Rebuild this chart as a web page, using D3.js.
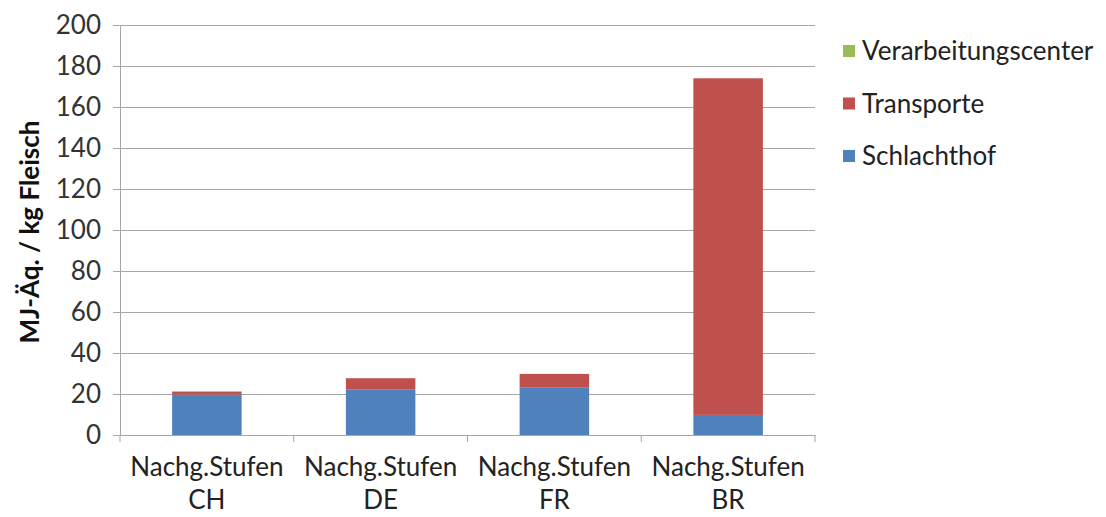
<!DOCTYPE html>
<html><head><meta charset="utf-8">
<script src="https://cdn.jsdelivr.net/npm/d3@7"></script>
<style>body{margin:0;background:#fff}svg{display:block}</style>
</head><body>
<svg id="c" width="1106" height="517"></svg>
<script>
const categories = ["Nachg.Stufen CH","Nachg.Stufen DE","Nachg.Stufen FR","Nachg.Stufen BR"];
const catLine1 = ["Nachg.Stufen","Nachg.Stufen","Nachg.Stufen","Nachg.Stufen"];
const catLine2 = ["CH","DE","FR","BR"];
const seriesNames = ["Schlachthof","Transporte","Verarbeitungscenter"];
const schlachthof = [19.7, 22.3, 23.3, 9.8];
const transporte = [1.5, 5.4, 6.5, 164.2];
const verarbeitungscenter = [0, 0, 0, 0];
const yTicks = [0,20,40,60,80,100,120,140,160,180,200];
const colors = ["#4F81BD","#C0504D","#9BBB59"];
const legendOrder = ["Verarbeitungscenter","Transporte","Schlachthof"];

const font = "Lato, 'Open Sans', sans-serif";
const fs = 26;
const svg = d3.select("#c");
const L = 120, R = 815, T = 25, B = 435;
const x = d3.scaleBand().domain(categories).range([L, R]).padding(0);
const y = d3.scaleLinear().domain([0, 200]).range([B, T]);

// gridlines
svg.append("g").selectAll("line").data(yTicks).join("line")
  .attr("x1", L).attr("x2", R).attr("y1", d => y(d)).attr("y2", d => y(d))
  .attr("stroke", "#a6a6a6").attr("stroke-width", 1).attr("shape-rendering","crispEdges");

// stacked data
const rows = categories.map((c, i) => ({cat: c, Schlachthof: schlachthof[i], Transporte: transporte[i], Verarbeitungscenter: verarbeitungscenter[i]}));
const stack = d3.stack().keys(seriesNames)(rows);
const bw = x.bandwidth() * 0.4;
svg.append("g").selectAll("g").data(stack).join("g")
  .attr("fill", (d, i) => colors[i])
  .selectAll("rect").data(d => d).join("rect")
  .attr("x", d => x(d.data.cat) + (x.bandwidth() - bw) / 2)
  .attr("width", bw)
  .attr("y", d => y(d[1]))
  .attr("height", d => y(d[0]) - y(d[1]));

// y axis
const yAxis = svg.append("g").attr("transform", `translate(${L},0)`)
  .call(d3.axisLeft(y).tickValues(yTicks).tickSize(7).tickPadding(12));
yAxis.select(".domain").attr("stroke", "#a6a6a6");
yAxis.selectAll(".tick line").attr("stroke", "#a6a6a6");
yAxis.selectAll("text").attr("font-family", font).attr("font-size", fs).attr("fill", "#333");

// x axis
const xAxis = svg.append("g").attr("transform", `translate(0,${B})`)
  .call(d3.axisBottom(x).tickSize(0).tickFormat(""));
xAxis.select(".domain").attr("stroke", "#a6a6a6");
const bounds = categories.map(c => x(c)).concat([R]);
xAxis.selectAll(".bt").data(bounds).join("line").attr("class","bt")
  .attr("x1", d => d).attr("x2", d => d).attr("y1", 0).attr("y2", 7)
  .attr("stroke", "#a6a6a6");
const lbl = svg.append("g").selectAll("text").data(categories).join("text")
  .attr("x", d => x(d) + x.bandwidth() / 2)
  .attr("text-anchor", "middle").attr("font-family", font).attr("font-size", fs).attr("fill", "#222");
lbl.append("tspan").attr("x", d => x(d) + x.bandwidth() / 2).attr("y", 476).text((d, i) => catLine1[i]);
lbl.append("tspan").attr("x", d => x(d) + x.bandwidth() / 2).attr("y", 509).text((d, i) => catLine2[i]);

// y label
svg.append("text").attr("transform", "translate(39,232) rotate(-90)")
  .attr("text-anchor", "middle").attr("font-family", font).attr("font-weight", "bold")
  .attr("font-size", fs).attr("fill", "#111").text("MJ-Äq. / kg Fleisch");

// legend
const lg = svg.append("g").selectAll("g").data(legendOrder).join("g")
  .attr("transform", (d, i) => `translate(843,${51 + i * 52.5})`);
lg.append("rect").attr("x", 0).attr("y", -6).attr("width", 12).attr("height", 12)
  .attr("fill", d => colors[seriesNames.indexOf(d)]);
lg.append("text").attr("x", 19).attr("y", 9).attr("font-family", font).attr("font-size", fs)
  .attr("fill", "#222").text(d => d);
</script>
</body></html>
